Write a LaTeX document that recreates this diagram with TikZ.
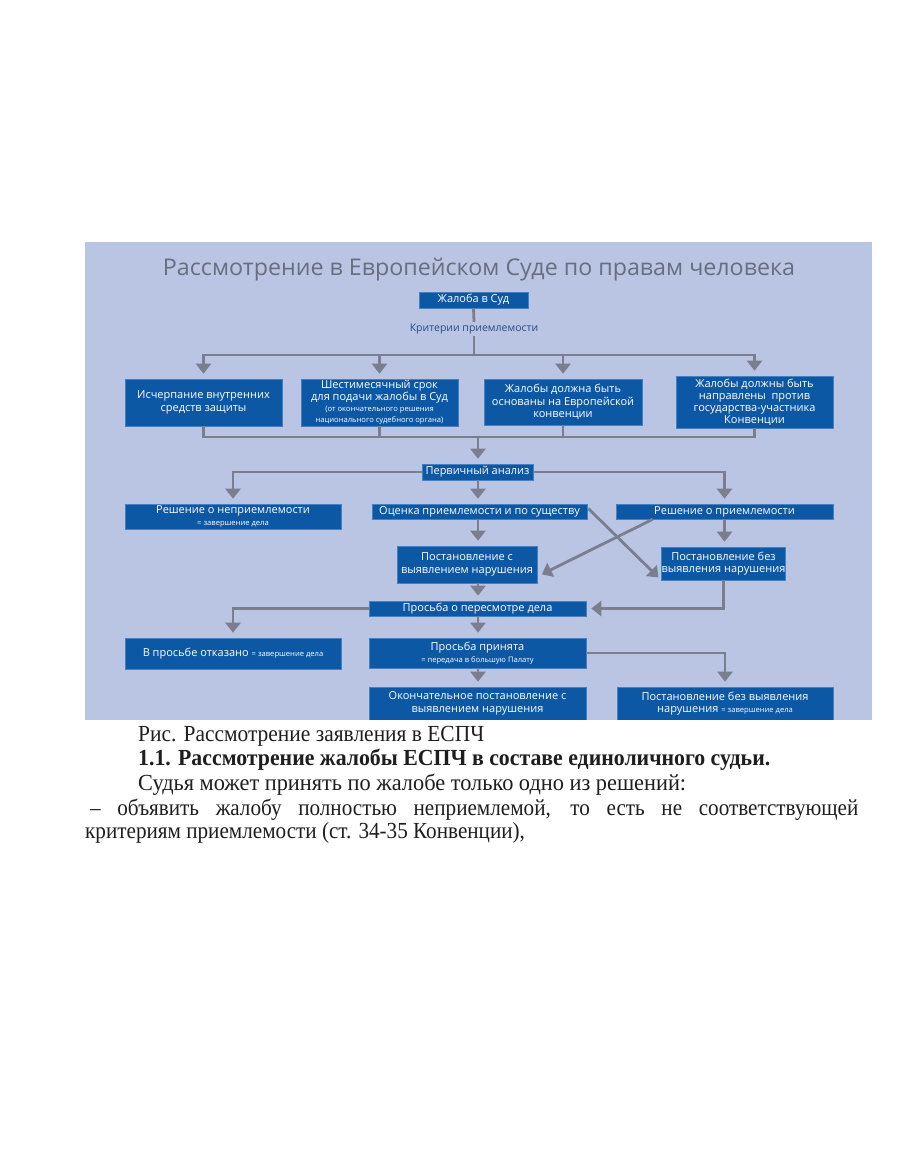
\documentclass[tikz,border=0pt]{standalone}
\usepackage{fontspec}
\usepackage{graphicx}
\setmainfont{Liberation Serif}
\newfontfamily\diag{Open Sans}
\usetikzlibrary{arrows.meta,calc}
\definecolor{panel}{RGB}{186,196,227}
\definecolor{boxblue}{RGB}{12,88,164}
\definecolor{boxedge}{RGB}{70,128,196}
\definecolor{arrgrey}{RGB}{122,126,142}
\definecolor{titlegrey}{RGB}{104,110,128}
\definecolor{critblue}{RGB}{36,76,138}
\definecolor{bodytext}{RGB}{30,30,30}
\begin{document}
\begin{tikzpicture}[x=1pt,y=-1pt,
  box/.style={fill=boxblue, draw=boxedge, line width=0.6pt, text=white, align=center,
    inner sep=0pt, font=\diag\fontsize{11}{12.5}\selectfont},
  conn/.style={draw=arrgrey, line width=2.8pt},
  arr/.style={conn, -{Triangle[width=15pt,length=10pt]}, shorten >=5pt},
  body/.style={anchor=base west, inner sep=0pt, text=bodytext, font=\fontsize{23}{26}\selectfont},
]
\useasboundingbox (0,0) rectangle (910,1155);
\fill[white] (0,0) rectangle (910,1155);
\fill[panel] (85,242) rectangle (872,720);

\newcommand{\smt}[1]{{\fontsize{7.6}{9}\selectfont #1}}

% title
\node[text=titlegrey, inner sep=0pt, font=\diag\fontsize{23}{26}\selectfont] (title) at (479,270)
  {\resizebox{632pt}{\height}{Рассмотрение в Европейском Суде по правам человека}};

\coordinate (mc) at (478,0);

% boxes
\node[box, minimum width=109pt, minimum height=16pt] (jal) at (473.5,300) {Жалоба в Суд};
\node[inner sep=2pt, text=critblue, font=\diag\fontsize{10.5}{12}\selectfont] (crit) at (474,329) {Критерии приемлемости};

\node[box, minimum width=157pt, minimum height=47pt] (b1) at (203.5,402.5) {Исчерпание внутренних\\средств защиты};
\node[box, minimum width=157pt, minimum height=47pt, font=\diag\fontsize{11}{11.3}\selectfont] (b2) at (379.5,402.5) {Шестимесячный срок\\для подачи жалобы в Суд\\\smt{(от окончательного решения}\\\smt{национального судебного органа)}};
\node[box, minimum width=158pt, minimum height=46pt] (b3) at (563,402) {Жалобы должна быть\\основаны на Европейской\\конвенции};
\node[box, minimum width=157pt, minimum height=52pt, font=\diag\fontsize{11}{12}\selectfont] (b4) at (754.5,402) {Жалобы должны быть\\направлены\ \ против\\государства-участника\\Конвенции};

\node[box, minimum width=111pt, minimum height=16pt] (perv) at (477.5,472) {Первичный анализ};

\node[box, minimum width=216pt, minimum height=25pt] (neprm) at (233,516.5) {Решение о неприемлемости\\\smt{= завершение дела}};
\node[box, minimum width=215pt, minimum height=15pt] (ocen) at (479.5,511.5) {Оценка приемлемости и по существу};
\node[box, minimum width=217pt, minimum height=15pt] (prm) at (724.5,511.5) {Решение о приемлемости};

\node[box, minimum width=140pt, minimum height=37pt] (postS) at (467,564.5) {Постановление с\\выявлением нарушения};
\node[box, minimum width=119pt, minimum height=33pt] (postB) at (723.5,563.5) {Постановление без\\выявления нарушения};

\node[box, minimum width=217pt, minimum height=15pt] (prosba) at (477.5,608.5) {Просьба о пересмотре дела};

\node[box, minimum width=216pt, minimum height=31pt] (otkaz) at (233,653.5) {В просьбе отказано \smt{= завершение дела}};
\node[box, minimum width=217pt, minimum height=30pt] (prin) at (477.5,653) {Просьба принята\\\smt{= передача в большую Палату}};

\node[box, minimum width=217pt, minimum height=33pt] (okon) at (477.5,703.5) {Окончательное постановление с\\выявлением нарушения};
\node[box, minimum width=216pt, minimum height=33pt] (postB2) at (725,703.5) {Постановление без выявления\\нарушения \smt{= завершение дела}};

% connectors: criteria
\coordinate (j1) at (474,355);
\draw[conn] (jal.south) -- (crit.north);
\draw[conn] (crit.south) -- (j1);
\draw[arr] (j1) -| (b1);
\draw[arr] (j1) -| (b2);
\draw[arr] (j1) -| (b3);
\draw[arr] (j1) -| (b4);

% to primary analysis
\coordinate (j2) at (478,437);
\draw[conn] (b1.south) |- (j2);
\draw[conn] (b4.south) |- (j2);
\draw[conn] (b2.south) -- (b2.south |- j2);
\draw[conn] (b3.south) -- (b3.south |- j2);
\draw[arr] (j2) -- (perv.north -| j2);

% primary analysis
\draw[arr] (perv.west) -| (neprm);
\draw[arr] (perv.east) -| (prm);
\draw[arr] (perv.south -| mc) -- (ocen.north -| mc);
\draw[arr] (ocen.south -| mc) -- (postS.north -| mc);
\draw[arr] (prm.south) -- (prm.south |- postB.north);

% diagonals
\draw[arr, shorten >=4pt] ($(ocen.east)+(1,-3)$) -- (postB.south west);
\draw[arr] ($(prm.south west)+(37,0)$) -- ($(postS.east)+(0,12)$);

% review
\draw[arr] (postS.south -| mc) -- (prosba.north -| mc);
\draw[arr] (postB.south) |- (prosba.east);
\draw[arr] (prosba.west) -| (otkaz);
\draw[arr] (prosba.south -| mc) -- (prin.north -| mc);
\draw[arr] (prin.east) -| (postB2);
\draw[arr] (prin.south -| mc) -- (okon.north -| mc);

% page below the figure (figure is cut at its lower edge)
\fill[white] (0,720) rectangle (910,1155);

% body text
\node[body] (cap) at (138,741) {\resizebox{346pt}{\height}{Рис. Рассмотрение заявления в ЕСПЧ}};
\node[body, font=\bfseries\fontsize{23}{26}\selectfont] (h11) at (138,765) {\resizebox{632pt}{\height}{1.1. Рассмотрение жалобы ЕСПЧ в составе единоличного судьи.}};
\node[body] (l3) at (138,790) {\resizebox{548pt}{\height}{Судья может принять по жалобе только одно из решений:}};
\node[body] (l4) at (90,815) {\scalebox{0.92}[1]{\makebox[835pt][s]{– объявить жалобу полностью неприемлемой, то есть не соответствующей}}};
\node[body] (l5) at (85,838) {\scalebox{0.92}[1]{критериям приемлемости (ст. 34-35 Конвенции),}};
\end{tikzpicture}
\end{document}
